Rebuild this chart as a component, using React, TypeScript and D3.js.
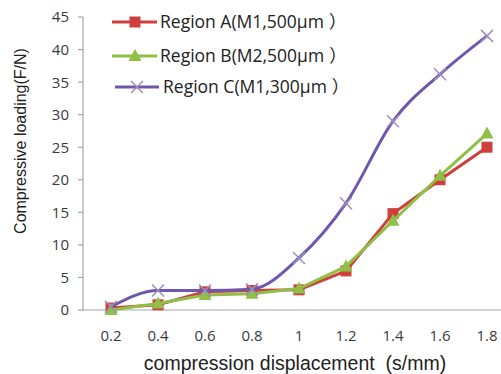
import React from "react";
import * as d3 from "d3";

const categories = ["0.2", "0.4", "0.6", "0.8", "1", "1.2", "1.4", "1.6", "1.8"];
const regionA = [0.3, 0.8, 2.8, 3.0, 3.1, 6.0, 14.8, 20.0, 25.0];
const regionB = [0.0, 1.0, 2.3, 2.5, 3.3, 6.7, 13.7, 20.6, 27.1];
const regionC = [0.5, 3.0, 3.0, 3.2, 8.0, 16.4, 29.0, 36.2, 42.1];
const yTicks = [0, 5, 10, 15, 20, 25, 30, 35, 40, 45];
const seriesNames = ["Region A(M1,500μm", "Region B(M2,500μm", "Region C(M1,300μm"];

const W = 501;
const H = 374;

export default function App() {
  const x = d3.scalePoint<string>().domain(categories).range([111, 487]);
  const y = d3.scaleLinear().domain([0, 45]).range([310, 17]);
  const straight = d3.line<number>().x((_, i) => x(categories[i])!).y((d) => y(d));
  const smooth = d3
    .line<number>()
    .x((_, i) => x(categories[i])!)
    .y((d) => y(d))
    .curve(d3.curveMonotoneX);

  const red = "#cf3f3c";
  const green = "#8fbf45";
  const purple = "#6f57ae";
  const font = "'Liberation Sans', Arial, sans-serif";
  const tickFont = "'Open Sans', sans-serif";

  const square = (cx: number, cy: number, c: string, k: string) => (
    <rect key={k} x={cx - 5.5} y={cy - 5.5} width={11} height={11} fill={c} />
  );
  const tri = (cx: number, cy: number, c: string, k: string) => (
    <path key={k} d={`M${cx},${cy - 7}L${cx + 6.5},${cy + 5}L${cx - 6.5},${cy + 5}Z`} fill={c} />
  );
  const cross = (cx: number, cy: number, k: string) => (
    <path
      key={k}
      d={`M${cx - 6},${cy - 6}L${cx + 6},${cy + 6}M${cx - 6},${cy + 6}L${cx + 6},${cy - 6}`}
      stroke="#9c8fbf"
      strokeWidth={1.5}
      fill="none"
    />
  );

  const legendY = [22, 56, 87];

  return (
    <svg width={W} height={H} style={{ position: "absolute", left: 0, top: 0, background: "#fff" }}>
      {/* axes */}
      <line x1={83} y1={17} x2={83} y2={310} stroke="#a6a6a6" strokeWidth={1.2} />
      <line x1={83} y1={310} x2={501} y2={310} stroke="#a6a6a6" strokeWidth={1.2} />
      {yTicks.map((t) => (
        <g key={t}>
          <line x1={78} x2={83} y1={y(t)} y2={y(t)} stroke="#a6a6a6" strokeWidth={1.2} />
          <text x={69} y={y(t)} dy="0.36em" textAnchor="end" fontFamily={tickFont} fontSize={15} fill="#3a3a3a">
            {t}
          </text>
        </g>
      ))}
      {categories.map((c) => (
        <text key={c} x={x(c)} y={336} dy="0.36em" textAnchor="middle" fontFamily={tickFont} fontSize={15} fill="#3a3a3a">
          {c}
        </text>
      ))}
      <text x={295} y={363} dy="0.35em" textAnchor="middle" fontFamily={font} fontSize={19.5} fill="#222">
        {"compression displacement\u00a0 (s/mm)"}
      </text>
      <text
        transform="translate(20,141) rotate(-90)"
        textAnchor="middle"
        dy="0.35em"
        fontFamily={font}
        fontSize={16}
        fill="#222"
      >
        Compressive loading(F/N)
      </text>

      {/* series */}
      <path d={straight(regionA)!} fill="none" stroke={red} strokeWidth={3} />
      {regionA.map((v, i) => square(x(categories[i])!, y(v), red, "a" + i))}
      <path d={straight(regionB)!} fill="none" stroke={green} strokeWidth={3} />
      {regionB.map((v, i) => tri(x(categories[i])!, y(v), green, "b" + i))}
      <path d={smooth(regionC)!} fill="none" stroke={purple} strokeWidth={3} />
      {regionC.map((v, i) => cross(x(categories[i])!, y(v), "c" + i))}

      {/* legend */}
      <line x1={112} x2={157} y1={legendY[0]} y2={legendY[0]} stroke={red} strokeWidth={3} />
      {square(135, legendY[0], red, "la")}
      <line x1={112} x2={157} y1={legendY[1]} y2={legendY[1]} stroke={green} strokeWidth={3} />
      {tri(135, legendY[1], green, "lb")}
      <line x1={115} x2={159} y1={legendY[2]} y2={legendY[2]} stroke={purple} strokeWidth={3} />
      {cross(137, legendY[2], "lc")}
      {seriesNames.map((n, i) => (
        <text
          key={n}
          x={i === 2 ? 163 : 160}
          y={legendY[i]}
          dy="0.35em"
          fontFamily={tickFont}
          fontSize={17.5}
          fill="#222"
        >
          {n}
          <tspan dx={5} fontFamily="'Noto Sans CJK SC', sans-serif">）</tspan>
        </text>
      ))}
    </svg>
  );
}
